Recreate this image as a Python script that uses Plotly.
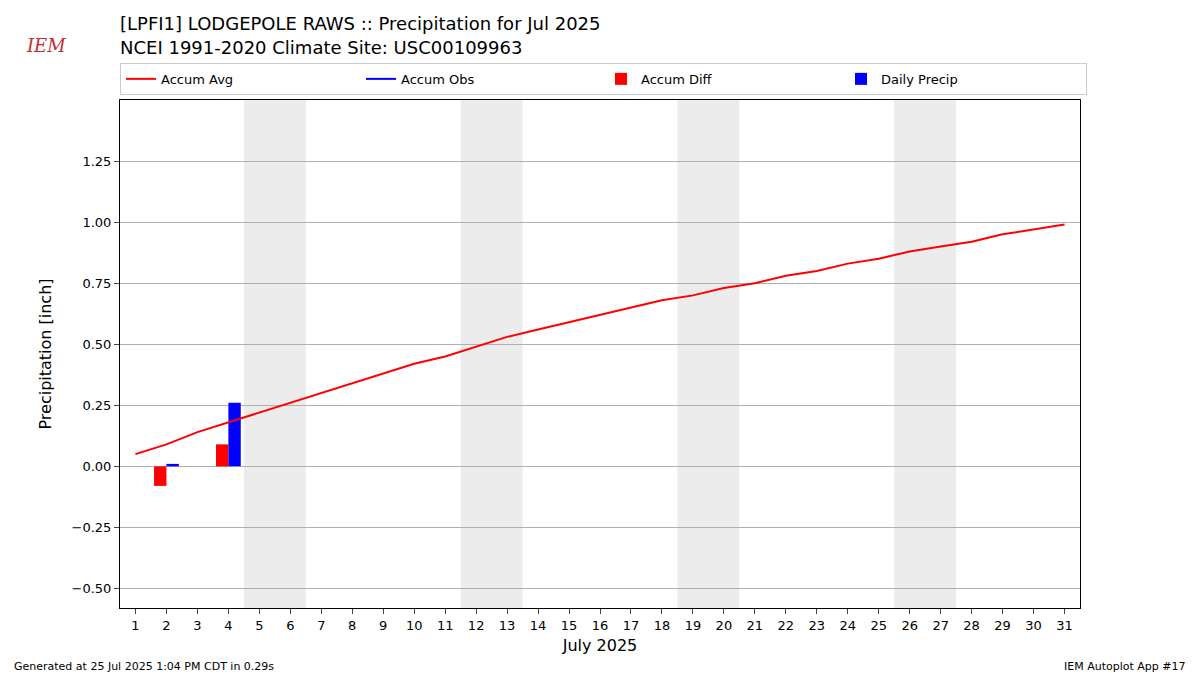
import plotly.graph_objects as go

days = list(range(1, 32))
accum_avg = [0.05,0.09,0.14,0.18,0.22,0.26,0.30,0.34,0.38,0.42,0.45,0.49,0.53,0.56,0.59,0.62,
             0.65,0.68,0.70,0.73,0.75,0.78,0.80,0.83,0.85,0.88,0.90,0.92,0.95,0.97,0.99]
obs_days = [2, 4]
accum_diff = [-0.08, 0.09]
daily_precip = [0.01, 0.26]
weekends = [(4.5, 6.5), (11.5, 13.5), (18.5, 20.5), (25.5, 27.5)]

fig = go.Figure()
fig.add_trace(go.Scatter(x=days, y=accum_avg, mode="lines", line=dict(color="red", width=2), name="Accum Avg"))
fig.add_trace(go.Scatter(x=[None], y=[None], mode="lines", line=dict(color="blue", width=2), name="Accum Obs"))
fig.add_trace(go.Bar(x=[d - 0.2 for d in obs_days], y=accum_diff, width=0.4, marker=dict(color="red", line_width=0), name="Accum Diff"))
fig.add_trace(go.Bar(x=[d + 0.2 for d in obs_days], y=daily_precip, width=0.4, marker=dict(color="blue", line_width=0), name="Daily Precip"))
for a, b in weekends:
    fig.add_vrect(x0=a, x1=b, fillcolor="#ececec", line_width=0, layer="below")

fig.update_layout(
    width=1200, height=675, plot_bgcolor="white", paper_bgcolor="white",
    font=dict(family="DejaVu Sans", size=13, color="black"),
    margin=dict(l=120, r=120, t=100, b=67),
    title=dict(text="[LPFI1] LODGEPOLE RAWS :: Precipitation for Jul 2025<br>NCEI 1991-2020 Climate Site: USC00109963",
               x=120/1200, xanchor="left", yref="container", y=0.955, yanchor="top", font=dict(size=18)),
    legend=dict(orientation="h", x=0, xanchor="left", y=1.01, yanchor="bottom", bordercolor="#cccccc", borderwidth=1,
                entrywidth=0.25, entrywidthmode="fraction", font=dict(size=13), tracegroupgap=0),
    barmode="overlay", showlegend=True,
    xaxis=dict(range=[0.5, 31.5], tickmode="array", tickvals=days, ticktext=[str(d) for d in days],
               title=dict(text="July 2025", font=dict(size=16), standoff=8), showline=True, mirror=True, linecolor="black",
               ticks="outside", showgrid=False, zeroline=False, tickfont=dict(size=13)),
    yaxis=dict(range=[-0.58, 1.5], tickvals=[-0.5,-0.25,0,0.25,0.5,0.75,1.0,1.25], tickformat=".2f",
               title=dict(text="Precipitation [inch]", font=dict(size=16)), showline=True, mirror=True, linecolor="black",
               ticks="outside", gridcolor="#b0b0b0", zeroline=False, tickfont=dict(size=13)),
)
fig.add_annotation(text="Generated at 25 Jul 2025 1:04 PM CDT in 0.29s", xref="paper", yref="paper",
                   x=-0.1125, y=0, yshift=-58, xanchor="left", yanchor="middle", showarrow=False, font=dict(size=11))
fig.add_annotation(text="IEM Autoplot App #17", xref="paper", yref="paper", x=1.1125, y=0, yshift=-58,
                   xanchor="right", yanchor="middle", showarrow=False, font=dict(size=11))
fig.add_annotation(text="<i>IEM</i>", xref="paper", yref="paper", x=-0.1, y=1, yshift=55, xanchor="left",
                   yanchor="middle", showarrow=False, font=dict(size=18, color="#c03030", family="DejaVu Serif"))
fig.write_html("out.html", post_script="document.body.style.margin='0';", config={"displayModeBar": False})
